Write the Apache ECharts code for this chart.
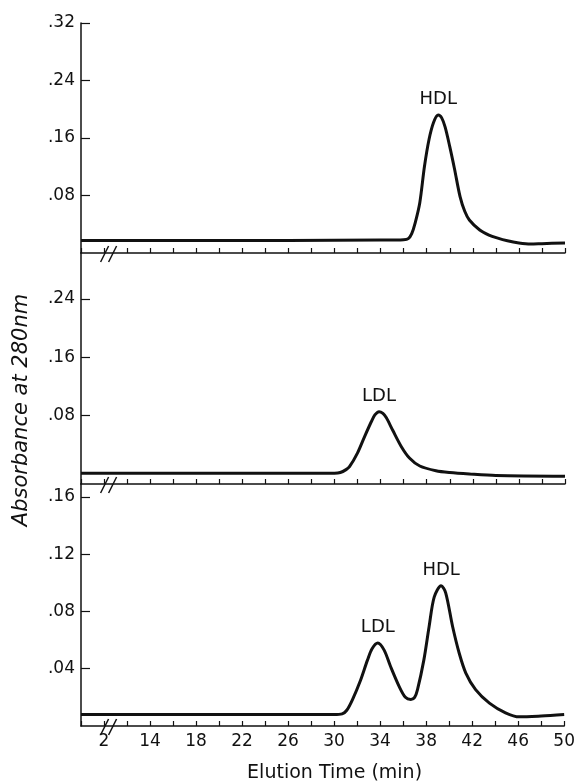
<!DOCTYPE html>
<html>
<head>
<meta charset="utf-8">
<script src="https://cdnjs.cloudflare.com/ajax/libs/echarts/6.0.0/echarts.min.js"></script>
</head>
<body>
<div id="main"></div>
<style>
html,body { margin: 0; padding: 0; background: #fff; }
#main { width: 578px; height: 784px; }
</style>
<script type="text/javascript">
// elution time (axis minutes, the 2..12 stretch is broken out) and absorbance
var hdlTime = [8, 16, 26, 34, 36, 36.4, 36.7, 37.0, 37.4, 37.8, 38.2, 38.6, 39.0, 39.3, 39.6, 40.0, 40.4, 40.9, 41.3, 41.7, 42.6, 43.4, 44.1, 45, 46, 47, 48, 50];
var hdlAbs  = [0.0175, 0.0175, 0.0175, 0.018, 0.0185, 0.02, 0.027, 0.042, 0.07, 0.12, 0.158, 0.182, 0.192, 0.188, 0.175, 0.148, 0.118, 0.078, 0.058, 0.046, 0.032, 0.025, 0.021, 0.017, 0.014, 0.0125, 0.013, 0.014];

var ldlTime = [8, 20, 30, 30.5, 31.0, 31.3, 32.0, 32.6, 33.2, 33.5, 33.86, 34.2, 34.5, 35.05, 35.8, 36.5, 37.4, 38.8, 40, 41.7, 44, 50];
var ldlAbs  = [0.001, 0.001, 0.001, 0.002, 0.006, 0.010, 0.029, 0.051, 0.072, 0.081, 0.0855, 0.083, 0.077, 0.060, 0.0375, 0.022, 0.011, 0.0045, 0.002, 0.0, -0.002, -0.003];

var mixTime = [8, 20, 30, 30.7, 31.1, 31.6, 32.3, 32.9, 33.3, 33.8, 34.35, 34.9, 35.65, 36.2, 36.67, 37.0, 37.25, 37.8, 38.26, 38.7, 39.3, 39.7, 40.3, 40.87, 41.45, 42.3, 43.5, 44.9, 46.1, 48, 50];
var mixAbs  = [0.008, 0.008, 0.008, 0.0085, 0.011, 0.0185, 0.032, 0.046, 0.054, 0.058, 0.053, 0.0417, 0.0277, 0.020, 0.0185, 0.020, 0.0254, 0.046, 0.0695, 0.090, 0.098, 0.093, 0.0695, 0.051, 0.037, 0.0254, 0.016, 0.0092, 0.0064, 0.007, 0.008];

var xLabelValues = [10, 14, 18, 22, 26, 30, 34, 38, 42, 46, 50];
var yTicks1 = [0.08, 0.16, 0.24, 0.32];
var yTicks2 = [0.08, 0.16, 0.24];
var yTicks3 = [0.04, 0.08, 0.12, 0.16];
var yRanges = [[0, 0.32], [-0.0137, 0.303], [0, 0.169]];

var FONT = 'DejaVu Sans';
var INK = '#111';

function pairs(t, v) {
    return t.map(function (x, i) { return [x, v[i]]; });
}
function peakOf(t, v, from, to) {
    var best = null;
    t.forEach(function (x, i) {
        if (x >= from && x <= to && (!best || v[i] > best[1])) best = [x, v[i]];
    });
    return best;
}
function peakMarks(list) {
    return {
        symbol: 'circle', symbolSize: 1,
        itemStyle: { color: 'rgba(0,0,0,0)' },
        label: { show: true, position: 'top', distance: 6, color: INK, fontSize: 18, fontFamily: FONT,
                 formatter: function (p) { return p.name; } },
        data: list
    };
}
function fmtY(v) { return v.toFixed(2).replace(/^0/, ''); }

var grids = [
    { left: 81, right: 13, top: 23, height: 230 },
    { left: 81, right: 13, top: 253, height: 231 },
    { left: 81, right: 13, top: 484, height: 242 }
];
var yTickSets = [yTicks1, yTicks2, yTicks3];

var xAxes = [0, 1, 2].map(function (i) {
    return {
        type: 'value', gridIndex: i, min: 8, max: 50, interval: 2,
        axisLine: { onZero: false, lineStyle: { color: INK, width: 1.5 } },
        axisTick: { inside: true, length: 5, lineStyle: { color: INK, width: 1.2 } },
        axisLabel: i < 2 ? { show: false } : {
            customValues: xLabelValues, color: INK, fontSize: 17, fontFamily: FONT, margin: 7,
            formatter: function (v) { return v === 10 ? '2' : String(v); }
        },
        splitLine: { show: false },
        name: i === 2 ? 'Elution Time (min)' : '',
        nameLocation: 'middle', nameGap: 38,
        nameTextStyle: { color: INK, fontSize: 19, fontFamily: FONT, padding: [0, 0, 0, 24] }
    };
});
var yAxes = [0, 1, 2].map(function (i) {
    return {
        type: 'value', gridIndex: i, min: yRanges[i][0], max: yRanges[i][1],
        axisLine: { show: true, onZero: false, lineStyle: { color: INK, width: 1.5 } },
        axisTick: { inside: true, length: 9, customValues: yTickSets[i], lineStyle: { color: INK, width: 1.2 } },
        axisLabel: { customValues: yTickSets[i], formatter: fmtY, color: INK, fontSize: 17, fontFamily: FONT, margin: 6 },
        splitLine: { show: false }
    };
});

var lineStyle = { color: INK, width: 3 };
var option = {
    animation: false,
    backgroundColor: '#fff',
    grid: grids,
    xAxis: xAxes,
    yAxis: yAxes,
    series: [
        { type: 'line', xAxisIndex: 0, yAxisIndex: 0, data: pairs(hdlTime, hdlAbs), showSymbol: false, smooth: 0.3, lineStyle: lineStyle,
          markPoint: peakMarks([{ name: 'HDL', coord: peakOf(hdlTime, hdlAbs, 30, 50) }]) },
        { type: 'line', xAxisIndex: 1, yAxisIndex: 1, data: pairs(ldlTime, ldlAbs), showSymbol: false, smooth: 0.3, lineStyle: lineStyle,
          markPoint: peakMarks([{ name: 'LDL', coord: peakOf(ldlTime, ldlAbs, 30, 50) }]) },
        { type: 'line', xAxisIndex: 2, yAxisIndex: 2, data: pairs(mixTime, mixAbs), showSymbol: false, smooth: 0.3, lineStyle: lineStyle,
          markPoint: peakMarks([
              { name: 'LDL', coord: peakOf(mixTime, mixAbs, 30, 36) },
              { name: 'HDL', coord: peakOf(mixTime, mixAbs, 37, 44) }
          ]) }
    ]
};

var chart = echarts.init(document.getElementById('main'));
chart.setOption(option);

// axis-break "//" marks and the y axis title
var extras = [{
    type: 'text', x: 22, y: 410, rotation: Math.PI / 2,
    style: { text: 'Absorbance at 280nm', fill: INK, fontSize: 21, fontStyle: 'italic', fontFamily: FONT,
             align: 'center', verticalAlign: 'middle' }
}];
[0, 1, 2].forEach(function (i) {
    var p = chart.convertToPixel({ xAxisIndex: i, yAxisIndex: i }, [9.7, yRanges[i][0]]);
    [0, 8].forEach(function (dx) {
        extras.push({
            type: 'line',
            shape: { x1: p[0] + dx, y1: p[1] + 9, x2: p[0] + dx + 8, y2: p[1] - 7 },
            style: { stroke: INK, lineWidth: 1.5 }
        });
    });
});
chart.setOption({ graphic: extras });
</script>
</body>
</html>
